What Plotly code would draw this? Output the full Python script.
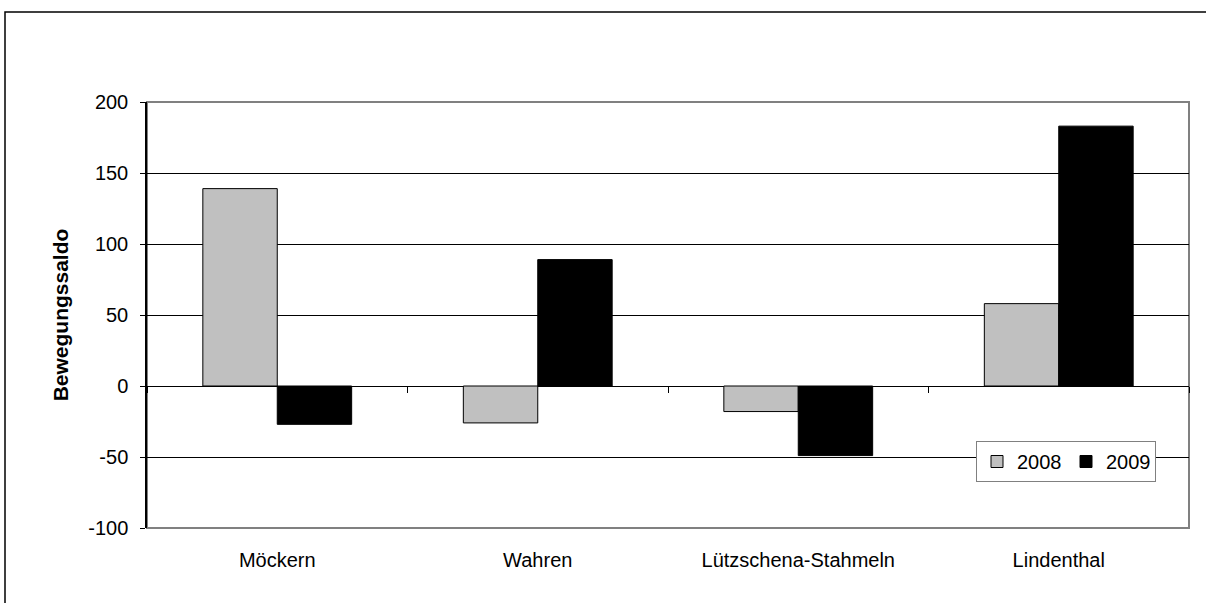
import plotly.graph_objects as go

districts = ["Möckern", "Wahren", "Lützschena-Stahmeln", "Lindenthal"]
years = ["2008", "2009"]
values_2008 = [139, -26, -18, 58]
values_2009 = [-27, 89, -49, 183]
y_ticks = [-100, -50, 0, 50, 100, 150, 200]
y_tick_text = ["-100", "-50", "0", "50", "100", "150", "200"]

FONT = "Liberation Sans, Arial, sans-serif"

fig = go.Figure()
fig.add_trace(go.Bar(name=years[0], x=districts, y=values_2008,
                     marker=dict(color="#C0C0C0", line=dict(color="black", width=1))))
fig.add_trace(go.Bar(name=years[1], x=districts, y=values_2009,
                     marker=dict(color="#000000", line=dict(color="black", width=1))))
# helper trace so the overlay axis knows the categories (for boundary ticks on the zero line)
fig.add_trace(go.Scatter(x=districts, y=[0] * len(districts), xaxis="x2", mode="none",
                         showlegend=False, hoverinfo="skip"))

W, H = 1206, 603
L, R, T, B = 147, 17, 102, 75
pw, ph = W - L - R, H - T - B

fig.update_layout(
    width=W, height=H,
    margin=dict(l=L, r=R, t=T, b=B),
    paper_bgcolor="white", plot_bgcolor="white",
    font=dict(family=FONT, size=20, color="black"),
    barmode="group", bargap=0.4286, bargroupgap=0,
    showlegend=True,
    legend=dict(orientation="h", x=(976 - L) / pw, y=(H - B - 441) / ph,
                xanchor="left", yanchor="top",
                bgcolor="white", bordercolor="#808080", borderwidth=1,
                font=dict(family=FONT, size=20, color="black"),
                itemwidth=30, entrywidth=44, tracegroupgap=0),
    xaxis=dict(type="category", categoryorder="array", categoryarray=districts,
               showgrid=False, zeroline=False, showline=False, ticks="",
               tickfont=dict(family=FONT, size=20, color="black"),
               ticklabelstandoff=18),
    xaxis2=dict(type="category", categoryorder="array", categoryarray=districts,
                overlaying="x", matches="x", anchor="free", position=(0 - (-100)) / 300,
                side="bottom", ticks="outside", ticklen=6, tickcolor="black", tickwidth=1,
                tickson="boundaries", showticklabels=False, showline=False,
                showgrid=False, zeroline=False),
    yaxis=dict(range=[-100, 200], tickvals=y_ticks, ticktext=y_tick_text,
               showgrid=True, gridcolor="black",
               gridwidth=1, zeroline=True, zerolinecolor="black", zerolinewidth=1,
               showline=True, linecolor="black", linewidth=1.5,
               ticks="outside", ticklen=5, tickcolor="black",
               tickfont=dict(family=FONT, size=20, color="black"),
               ticklabelstandoff=8,
               title=dict(text="<b>Bewegungssaldo</b>", standoff=14,
                          font=dict(family=FONT, size=21, color="black"))),
    shapes=[
        # plot area frame (gray)
        dict(type="rect", xref="paper", yref="paper", x0=0, x1=1, y0=0, y1=1,
             line=dict(color="#808080", width=2), layer="below"),
        # chart area border (black), extends beyond right/bottom edges
        dict(type="rect", xref="paper", yref="paper",
             x0=(5 - L) / pw, x1=(W + 20 - L) / pw,
             y0=(H - B - (H + 20)) / ph, y1=(H - B - 12) / ph,
             line=dict(color="black", width=1.5)),
    ],
)

fig.write_html("out.html", config={"displayModeBar": False},
               post_script="document.body.style.margin='0';")
